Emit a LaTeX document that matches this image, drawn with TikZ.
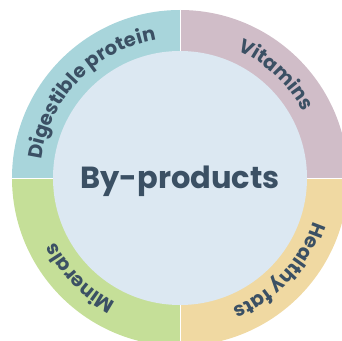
\documentclass[tikz,border=0pt]{standalone}
\usepackage{fontspec}
\setmainfont{Poppins}
\usetikzlibrary{decorations.text}
\definecolor{ink}{HTML}{3B5064}
\definecolor{hub}{HTML}{DCE8F2}
\definecolor{teal}{HTML}{A8D5DB}
\definecolor{mauve}{HTML}{D0BDC8}
\definecolor{tan}{HTML}{F0D9A2}
\definecolor{leaf}{HTML}{C5DF98}
\tikzset{
  sector/.style={draw=white, line width=0.6pt},
  arclabel/.style={decorate, decoration={text along path, text align=center,
    text color=ink,
    text={|\fontsize{19.5}{19.5}\selectfont\bfseries|#1}}}
}
\begin{document}
\begin{tikzpicture}[x=1pt,y=1pt]
  \useasboundingbox (-180,-162) rectangle (162,178);
  % outer ring, one sector per quadrant
  \fill[teal]  (0,0) -- (180:168) arc[start angle=180,end angle=90,radius=168] -- cycle;
  \fill[mauve] (0,0) -- (90:168)  arc[start angle=90,end angle=0,radius=168] -- cycle;
  \fill[tan]   (0,0) -- (0:168)   arc[start angle=0,end angle=-90,radius=168] -- cycle;
  \fill[leaf]  (0,0) -- (-90:168) arc[start angle=-90,end angle=-180,radius=168] -- cycle;
  \draw[sector] (0,0) -- (90:168) (0,0) -- (0:168) (0,0) -- (-90:168) (0,0) -- (180:168);
  % hub
  \fill[hub] (0,0) circle[radius=127];
  \node[anchor=base, text=ink, font=\fontsize{30.5}{30.5}\selectfont\bfseries] (hubtext) at (0,-10) {By-products};
  % curved labels in the ring
  \path[arclabel={Digestible protein}] (181:140) arc[start angle=181,end angle=91,radius=140];
  \path[arclabel={Vitamins}] (92:140) arc[start angle=92,end angle=2,radius=140];
  \path[arclabel={Healthy fats}] (2:140) arc[start angle=2,end angle=-88,radius=140];
  \path[arclabel={Minerals}] (-90:140) arc[start angle=-90,end angle=-180,radius=140];
\end{tikzpicture}
\end{document}
